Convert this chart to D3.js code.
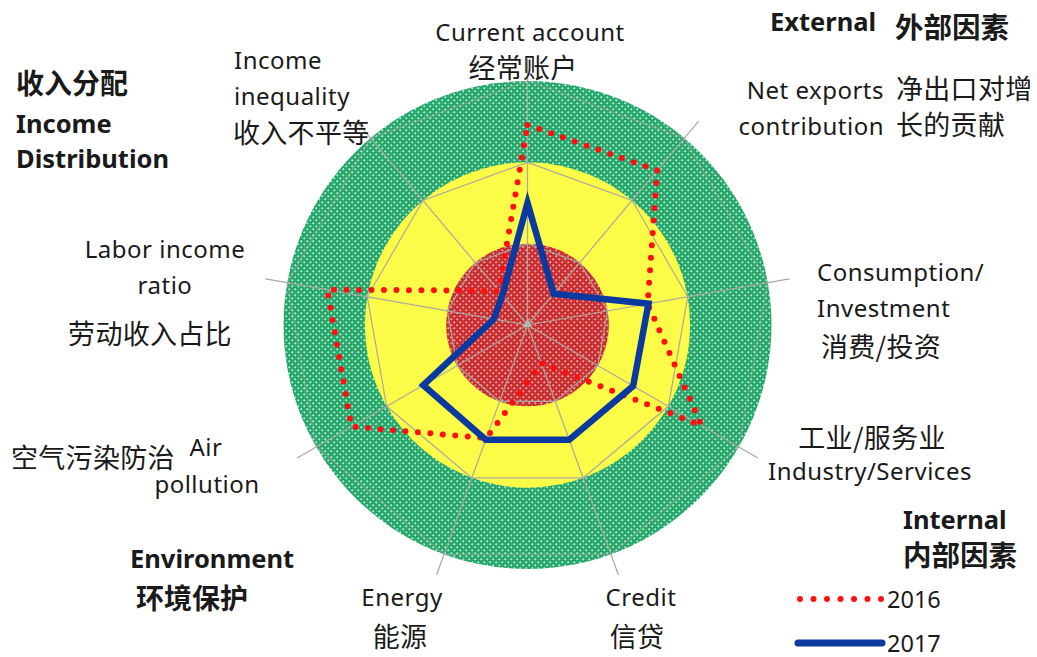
<!DOCTYPE html>
<html>
<head>
<meta charset="utf-8">
<script src="https://cdn.jsdelivr.net/npm/d3@7"></script>
<style>
  html, body { margin: 0; padding: 0; background: #fff; }
  svg { display: block; }
  text { font-family: "Noto Sans", "Open Sans", "Noto Sans CJK SC", sans-serif; fill: #1a1a1a; }
  .cjk { font-family: "Noto Sans CJK SC", sans-serif; }
</style>
</head>
<body>
<svg id="chart" width="1037" height="657"></svg>
<script>
// Radar axes, clockwise from the top
const axes = [
  "Current account", "Net exports contribution", "Consumption/Investment",
  "Industry/Services", "Credit", "Energy", "Air pollution",
  "Labor income ratio", "Income inequality"
];
// Risk scores per axis (0 = centre, 3 = outer ring)
const values2016 = [2.46, 2.48, 1.5, 2.47, 0.5, 1.48, 2.5, 2.5, 0.55];
const values2017 = [1.5, 0.5, 1.51, 1.5, 1.5, 1.5, 1.48, 0.42, 0.48];
const seriesNames = ["2016", "2017"];
const gridLevels = [1, 2, 3];

const svg = d3.select("#chart");
const cx = 527.5, cy = 325;
const r = d3.scaleLinear().domain([0, 3]).range([0, 244]);
const angle = d3.scalePoint().domain(d3.range(axes.length)).range([0, 2 * Math.PI * (axes.length - 1) / axes.length]);

const pt = (i, v) => {
  const a = angle(i);
  return [cx + r(v) * Math.sin(a), cy - r(v) * Math.cos(a)];
};

// Fill textures for the green and red bands
const defs = svg.append("defs");
function texture(id, base, light, mid) {
  const p = defs.append("pattern").attr("id", id).attr("patternUnits", "userSpaceOnUse")
    .attr("width", 6).attr("height", 6);
  p.append("rect").attr("width", 6).attr("height", 6).attr("fill", base);
  // light crosses on a diagonal lattice
  [[0, 0], [3, 3]].forEach(([x, y]) => {
    p.append("rect").attr("x", x).attr("y", y + 0.75).attr("width", 2.5).attr("height", 1).attr("fill", light);
    p.append("rect").attr("x", x + 0.75).attr("y", y).attr("width", 1).attr("height", 2.5).attr("fill", light);
  });
  p.append("rect").attr("x", 4.2).attr("y", 0.8).attr("width", 1).attr("height", 1).attr("fill", mid);
  p.append("rect").attr("x", 1.2).attr("y", 3.8).attr("width", 1).attr("height", 1).attr("fill", mid);
}
texture("greenTex", "#20a064", "#a2eec8", "#5cc894");
texture("redTex", "#c4262a", "#f09c9a", "#d85a58");

const g = svg.append("g");

// Background bands
g.append("circle").attr("cx", cx).attr("cy", cy).attr("r", r(3)).attr("fill", "url(#greenTex)");
g.append("circle").attr("cx", cx).attr("cy", cy).attr("r", r(2)).attr("fill", "#fcfc48");
g.append("circle").attr("cx", cx).attr("cy", cy).attr("r", r(1)).attr("fill", "url(#redTex)");

// Nonagon gridlines
const lineClosed = d3.line().curve(d3.curveLinearClosed);
g.selectAll("path.grid").data(gridLevels).join("path")
  .attr("class", "grid")
  .attr("d", lv => lineClosed(axes.map((_, i) => pt(i, lv))))
  .attr("fill", "none").attr("stroke", "#a9a9a0").attr("stroke-width", 1.2)
  .attr("stroke-opacity", lv => lv === 3 ? 0.55 : 1);

// Spokes
g.selectAll("line.spoke").data(axes).join("line")
  .attr("class", "spoke")
  .attr("x1", cx).attr("y1", cy)
  .attr("x2", (_, i) => pt(i, 3.27)[0]).attr("y2", (_, i) => pt(i, 3.27)[1])
  .attr("stroke", "#a9a9a0").attr("stroke-width", 1.2);

// Series
g.append("path")
  .attr("d", lineClosed(values2016.map((v, i) => pt(i, v))))
  .attr("fill", "none").attr("stroke", "#ff1010").attr("stroke-width", 6)
  .attr("stroke-linecap", "round").attr("stroke-dasharray", "0 12.5");

g.append("path")
  .attr("d", lineClosed(values2017.map((v, i) => pt(i, v))))
  .attr("fill", "none").attr("stroke", "#0a3aa0").attr("stroke-width", 6.5)
  .attr("stroke-linejoin", "miter");

// Centre marker
g.append("path").attr("d", d3.symbol(d3.symbolTriangle, 40)()).attr("transform", `translate(${cx},${cy - 1})`)
  .attr("fill", "#b8b8b0");

// Axis labels
const labels = [
  { x: 530, y: 41, anchor: "middle", lines: [["Current account", 0]] },
  { x: 523, y: 78, anchor: "middle", lines: [["经常账户", 1]] },
  { x: 884, y: 99, anchor: "end", lines: [["Net exports", 0], ["contribution", 0]] },
  { x: 896, y: 99, anchor: "start", lines: [["净出口对增", 1], ["长的贡献", 1]] },
  { x: 817, y: 281, anchor: "start", lines: [["Consumption/", 0], ["Investment", 0]] },
  { x: 821, y: 357, anchor: "start", lines: [["消费/投资", 1]] },
  { x: 872, y: 448, anchor: "middle", lines: [["工业/服务业", 1]] },
  { x: 870, y: 480, anchor: "middle", lines: [["Industry/Services", 0]] },
  { x: 641, y: 606, anchor: "middle", lines: [["Credit", 0]] },
  { x: 637, y: 647, anchor: "middle", lines: [["信贷", 1]] },
  { x: 402, y: 606, anchor: "middle", lines: [["Energy", 0]] },
  { x: 400, y: 647, anchor: "middle", lines: [["能源", 1]] },
  { x: 206, y: 456, anchor: "middle", lines: [["Air", 0]] },
  { x: 207, y: 493, anchor: "middle", lines: [["pollution", 0]] },
  { x: 11, y: 468, anchor: "start", lines: [["空气污染防治", 1]] },
  { x: 165, y: 258, anchor: "middle", lines: [["Labor income", 0], ["ratio", 0]] },
  { x: 150, y: 344, anchor: "middle", lines: [["劳动收入占比", 1]] },
  { x: 234, y: 69, anchor: "start", lines: [["Income", 0], ["inequality", 0]] },
  { x: 233, y: 143, anchor: "start", lines: [["收入不平等", 1]] }
];
labels.forEach(l => {
  const t = svg.append("text").attr("text-anchor", l.anchor);
  l.lines.forEach(([s, cjk], k) => {
    t.append("tspan").attr("x", l.x).attr("y", l.y + k * 36)
      .attr("class", cjk ? "cjk" : null)
      .style("font-size", cjk ? "27px" : "24px")
      .style("letter-spacing", cjk ? "0.3px" : "0.5px")
      .text(s);
  });
});

// Group headings
const headings = [
  { x: 770, y: 31, text: "External", size: 25.5, cjk: false },
  { x: 895, y: 38, text: "外部因素", size: 28.5, cjk: true },
  { x: 16, y: 94, text: "收入分配", size: 28, cjk: true },
  { x: 16, y: 133, text: "Income", size: 25.5, cjk: false },
  { x: 16, y: 168, text: "Distribution", size: 25.5, cjk: false },
  { x: 130, y: 568, text: "Environment", size: 25.5, cjk: false },
  { x: 136, y: 609, text: "环境保护", size: 28, cjk: true },
  { x: 903, y: 529, text: "Internal", size: 25.5, cjk: false },
  { x: 903, y: 566, text: "内部因素", size: 28.5, cjk: true }
];
svg.selectAll("text.head").data(headings).join("text")
  .attr("class", d => d.cjk ? "head cjk" : "head")
  .attr("x", d => d.x).attr("y", d => d.y)
  .style("font-size", d => d.size + "px").style("font-weight", "bold")
  .text(d => d.text);

// Legend
const legend = svg.append("g");
const lx0 = 800, lx1 = 882;
seriesNames.forEach((name, k) => {
  const y = 599 + k * 44;
  const ln = legend.append("line").attr("x1", lx0).attr("x2", lx1).attr("y1", y).attr("y2", y);
  if (k === 0) {
    ln.attr("stroke", "#ff1010").attr("stroke-width", 6).attr("stroke-linecap", "round")
      .attr("stroke-dasharray", "0 13.5");
  } else {
    ln.attr("x1", lx0 - 2).attr("stroke", "#0a3aa0").attr("stroke-width", 7).attr("stroke-linecap", "round");
  }
  legend.append("text").attr("x", 887).attr("y", y + 8.5).style("font-size", "23.5px").text(name);
});
</script>
</body>
</html>
